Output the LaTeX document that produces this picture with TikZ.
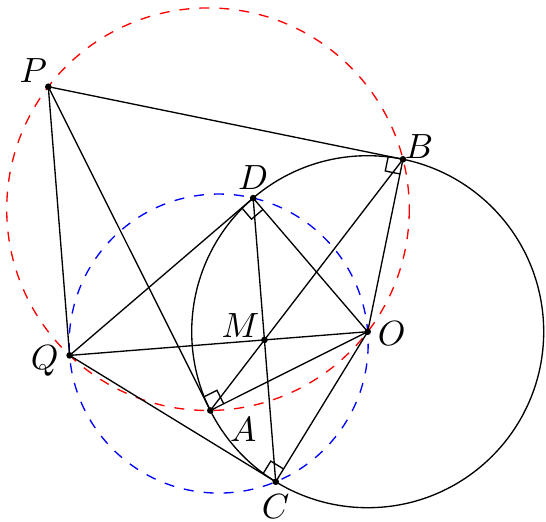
\documentclass[tikz,border=0pt]{standalone}
\usetikzlibrary{calc}
\begin{document}
\begin{tikzpicture}[x=0.3pt,y=-0.3pt,
  seg/.style={black,line width=0.4pt},
  redcirc/.style={red,dashed,line width=0.4pt},
  bluecirc/.style={blue,dashed,line width=0.4pt},
  rmark/.style={black,line width=0.4pt},
  lbl/.style={inner sep=0pt,scale=1.05}]
\useasboundingbox (0,0) rectangle (546,521);
% points
\coordinate (O) at (367.7,331.7);
\coordinate (P) at (48.3,86.7);
\coordinate (Q) at (69.6,355.4);
\coordinate (A) at (210.3,410.47);
\coordinate (B) at (402.98,159.27);
\coordinate (D) at (253.16,198.07);
\coordinate (C) at (275.72,481.75);
\coordinate (M) at (264.44,339.91);
\coordinate (R) at (208,209.2);
\coordinate (U) at (218.65,343.55);
% circles
\draw[redcirc] (R) circle[radius=201.28];
\draw[bluecirc] (U) circle[radius=149.52];
\draw[seg] (O) circle[radius=176];
% segments
\draw[seg] (P) -- (B);
\draw[seg] (P) -- (Q);
\draw[seg] (P) -- (A);
\draw[seg] (Q) -- (D);
\draw[seg] (Q) -- (O);
\draw[seg] (Q) -- (C);
\draw[seg] (D) -- (O);
\draw[seg] (D) -- (C);
\draw[seg] (B) -- (A);
\draw[seg] (B) -- (O);
\draw[seg] (A) -- (O);
\draw[seg] (C) -- (O);
% right angle marks
\foreach \v/\a/\b in {B/P/O, A/P/O, D/Q/O, C/Q/O} {
  \coordinate (m1) at ($(\v)!4.5pt!(\a)$);
  \coordinate (m2) at ($(\v)!4.5pt!(\b)$);
  \draw[rmark] (m1) -- ($(m1)+(m2)-(\v)$) -- (m2);
}
% dots
\foreach \p in {P,Q,A,B,C,D,O,M} {
  \fill (\p) circle[radius=3.3];
}
% labels
\node[lbl] (lP) at ($(P)+(-15,-16)$) {$P$};
\node[lbl] (lB) at ($(B)+(16,-13)$) {$B$};
\node[lbl] (lD) at ($(D)+(0,-21)$) {$D$};
\node[lbl] (lM) at ($(M)+(-24,-14)$) {$M$};
\node[lbl] (lO) at ($(O)+(24,2)$) {$O$};
\node[lbl] (lQ) at ($(Q)+(-25,6)$) {$Q$};
\node[lbl] (lA) at ($(A)+(33,19)$) {$A$};
\node[lbl] (lC) at ($(C)+(0,25)$) {$C$};
\end{tikzpicture}
\end{document}
